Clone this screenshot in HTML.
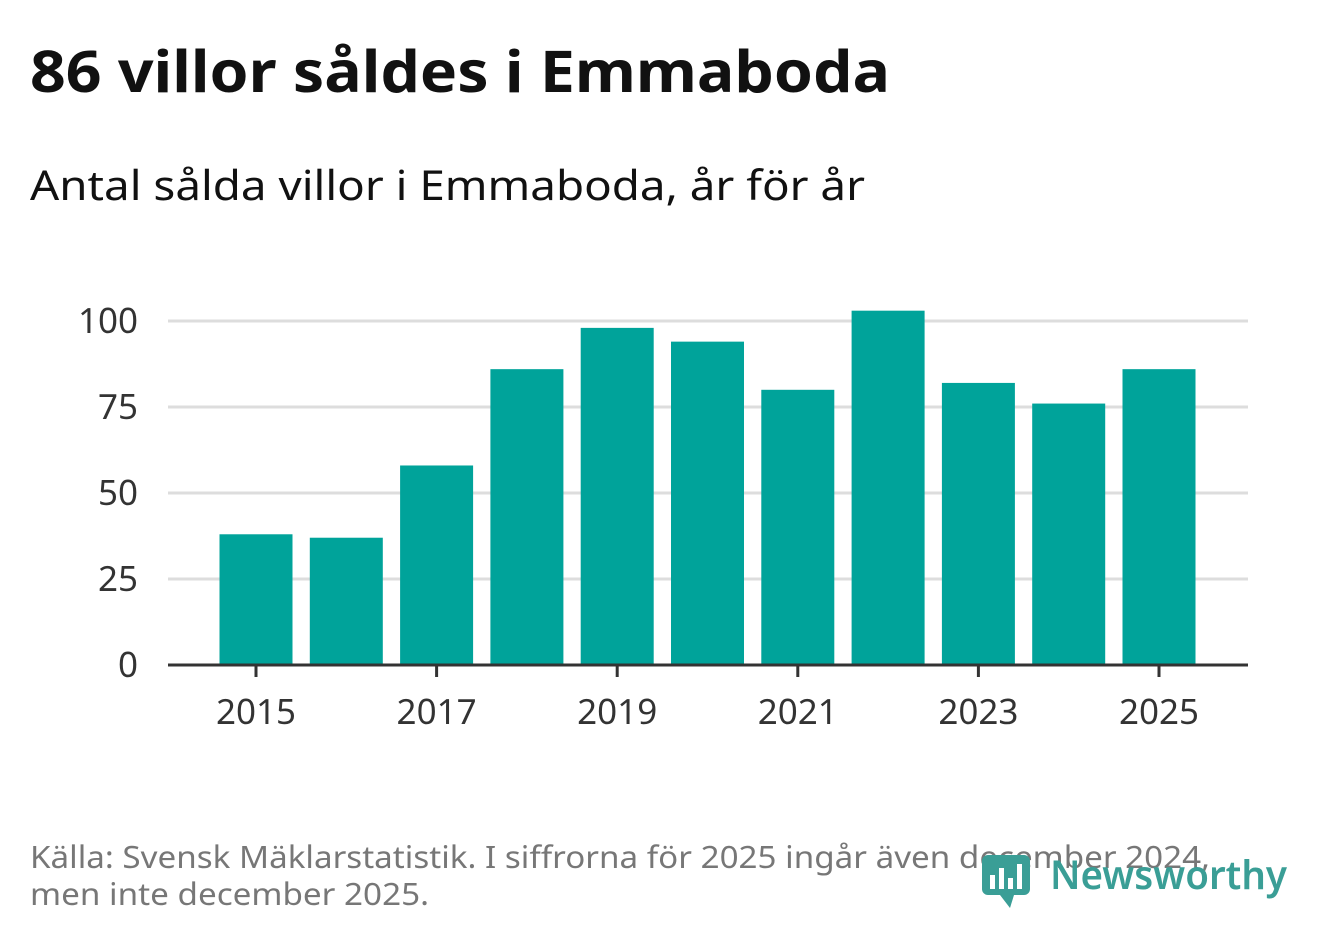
<!DOCTYPE html>
<html><head><meta charset="utf-8"><style>
body{margin:0;background:#fff;width:1322px;height:939px;overflow:hidden;font-family:"Noto Sans","DejaVu Sans","Liberation Sans",sans-serif}
</style></head><body>
<svg width="1322" height="939" viewBox="0 0 1322 939" xmlns="http://www.w3.org/2000/svg">
<text x="30" y="92" font-size="57" font-weight="bold" fill="#111" textLength="860" lengthAdjust="spacingAndGlyphs">86 villor såldes i Emmaboda</text>
<text x="30" y="200" font-size="41" fill="#111" textLength="835" lengthAdjust="spacingAndGlyphs">Antal sålda villor i Emmaboda, år för år</text>
<g id="grid"></g><g id="bars"></g><g id="axes"></g>
<text x="30" y="868" font-size="31" fill="#777" textLength="1180" lengthAdjust="spacingAndGlyphs">Källa: Svensk Mäklarstatistik. I siffrorna för 2025 ingår även december 2024,</text>
<text x="30" y="905" font-size="31" fill="#777" textLength="399" lengthAdjust="spacingAndGlyphs">men inte december 2025.</text>
<g>
<rect x="982" y="855" width="48" height="40" rx="6" fill="#3a9e96"/>
<polygon points="1000,895 1014,895 1010,908" fill="#3a9e96"/>
<rect x="990" y="875" width="5" height="14" fill="#fff"/><rect x="999" y="868" width="5" height="21" fill="#fff"/><rect x="1008" y="878" width="5" height="11" fill="#fff"/><rect x="1017" y="864" width="5" height="25" fill="#fff"/>
<text x="1050" y="889" font-size="40" font-weight="600" fill="#3a9e96" textLength="237" lengthAdjust="spacingAndGlyphs">Newsworthy</text>
</g>
</svg>
<script>
const years=[2015,2016,2017,2018,2019,2020,2021,2022,2023,2024,2025];
const values=[38,37,58,86,98,94,80,103,82,76,86];
const yTicks=[0,25,50,75,100];
const xTickLabels=[2015,2017,2019,2021,2023,2025];
const NS="http://www.w3.org/2000/svg";
const y=v=>665-v*3.44;
const x=yr=>256+(yr-2015)*90.3;
function mk(tag,attrs,parent){const e=document.createElementNS(NS,tag);for(const k in attrs)e.setAttribute(k,attrs[k]);document.getElementById(parent).appendChild(e);return e;}
yTicks.forEach(t=>{
 if(t>0){const l=mk('line',{x1:168,x2:1248,y1:y(t),y2:y(t),stroke:'#ddd','stroke-width':3},'grid');
 
 }
 const tx=mk('text',{x:138,y:y(t)+12,'font-size':35,fill:'#333','text-anchor':'end'},'axes');
 tx.textContent=t;
 
 
});
years.forEach((yr,i)=>{
 const r=mk('rect',{x:x(yr)-36.5,y:y(values[i]),width:73,height:665-y(values[i]),fill:'#00a39a'},'bars');
 
 
});
const ax=mk('line',{x1:168,x2:1248,y1:665,y2:665,stroke:'#333','stroke-width':3},'axes');


xTickLabels.forEach(yr=>{
 const tk=mk('line',{x1:x(yr),x2:x(yr),y1:665,y2:677,stroke:'#333','stroke-width':3},'axes');
 
 
 const t=mk('text',{x:x(yr),y:724,'font-size':35,fill:'#333','text-anchor':'middle'},'axes');
 t.textContent=yr;
 
 
});
</script>
</body></html>
